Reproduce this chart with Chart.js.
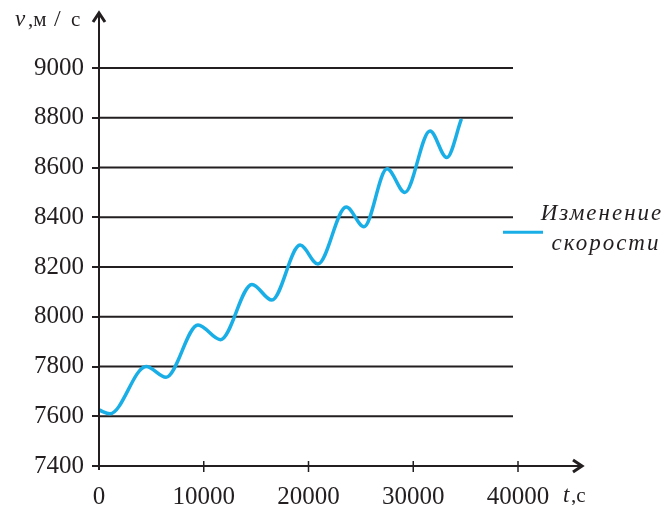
<!DOCTYPE html>
<html>
<head>
<meta charset="utf-8">
<script src="https://cdn.jsdelivr.net/npm/chart.js@4/dist/chart.umd.min.js"></script>
<style>
  html, body { margin: 0; padding: 0; background: #fff; }
  #wrap { width: 665px; height: 505px; }
</style>
</head>
<body>
<div id="wrap"><canvas id="myChart" width="665" height="505"></canvas></div>
<script>
// time, s
let timeVals = [0, 1050, 4500, 6400, 9450, 11600, 14600, 16500, 19200, 20900, 23600, 25300, 27500, 29200, 31600, 33200, 34600];
// speed, m/s
let speedVals = [7625, 7610, 7800, 7757, 7967, 7908, 8130, 8067, 8288, 8212, 8441, 8362, 8595, 8500, 8747, 8640, 8795];

let xTicks = [0, 10000, 20000, 30000, 40000];
let yTicks = [7400, 7600, 7800, 8000, 8200, 8400, 8600, 8800, 9000];
let legendLines = ["Изменение", "скорости"];

let points = [];
for (let i = 0; i < timeVals.length; i++) {
  points.push({ x: timeVals[i], y: speedVals[i] });
}

const ink = "#231f20";
const blue = "#1aaee6";
const serif = "'Liberation Serif', 'Times New Roman', serif";

// horizontal grid lines stop a little short of the last x tick
const gridLines = {
  id: "gridLines",
  beforeDatasetsDraw(chart) {
    const c = chart.ctx;
    const a = chart.chartArea;
    const ys = chart.scales.y;
    c.save();
    c.strokeStyle = ink;
    c.lineWidth = 2;
    yTicks.forEach((v) => {
      const py = ys.getPixelForValue(v);
      c.beginPath();
      c.moveTo(a.left, py);
      c.lineTo(a.right - 5, py);
      c.stroke();
    });
    c.restore();
  }
};

// axis lines with arrows, crossing ticks on x, titles and the legend
const extras = {
  id: "extras",
  afterDraw(chart) {
    const c = chart.ctx;
    const a = chart.chartArea;
    const xs = chart.scales.x;
    c.save();
    c.strokeStyle = ink;
    c.fillStyle = ink;

    // y axis
    c.lineWidth = 2;
    c.beginPath();
    c.moveTo(a.left, a.bottom + 4);
    c.lineTo(a.left, a.top - 55);
    c.stroke();
    // x axis
    c.beginPath();
    c.moveTo(a.left - 7, a.bottom);
    c.lineTo(a.right + 64, a.bottom);
    c.stroke();

    // arrows
    c.lineWidth = 3;
    c.beginPath();
    c.moveTo(a.left - 6, a.top - 46);
    c.lineTo(a.left, a.top - 55);
    c.lineTo(a.left + 6, a.top - 46);
    c.stroke();
    c.beginPath();
    c.moveTo(a.right + 55, a.bottom - 6);
    c.lineTo(a.right + 64, a.bottom);
    c.lineTo(a.right + 55, a.bottom + 6);
    c.stroke();

    // x ticks
    c.lineWidth = 1.5;
    xTicks.forEach((t) => {
      if (t === 0) return;
      const px = xs.getPixelForValue(t);
      c.beginPath();
      c.moveTo(px, a.bottom - 5);
      c.lineTo(px, a.bottom + 6);
      c.stroke();
    });

    // axis titles
    c.textBaseline = "alphabetic";
    c.textAlign = "left";
    c.font = "italic 23px " + serif;
    c.fillText("v", a.left - 84, a.top - 42);
    c.font = "21px " + serif;
    c.fillText(",м", a.left - 71, a.top - 42);
    c.font = "24px " + serif;
    c.fillText("/", a.left - 45, a.top - 42);
    c.font = "21px " + serif;
    c.fillText("с", a.left - 28, a.top - 42);

    c.font = "italic 23px " + serif;
    c.fillText("t", a.right + 45, a.bottom + 36);
    c.font = "21px " + serif;
    c.fillText(",с", a.right + 53, a.bottom + 36);

    // legend
    const ly = chart.scales.y.getPixelForValue(8340);
    c.strokeStyle = blue;
    c.lineWidth = 3;
    c.beginPath();
    c.moveTo(a.right - 15, ly);
    c.lineTo(a.right + 25, ly);
    c.stroke();
    c.fillStyle = ink;
    c.font = "italic 23px " + serif;
    c.textAlign = "center";
    c.letterSpacing = "2px";
    c.fillText(legendLines[0], a.right + 84, ly - 12);
    c.fillText(legendLines[1], a.right + 88, ly + 18);
    c.restore();
  }
};

let ctx = document.getElementById("myChart").getContext("2d");
let myChart = new Chart(ctx, {
  type: "line",
  data: {
    datasets: [
      {
        label: legendLines.join(" "),
        data: points,
        borderColor: blue,
        borderWidth: 3.5,
        pointRadius: 0,
        fill: false,
        cubicInterpolationMode: "monotone",
      },
    ],
  },
  options: {
    responsive: false,
    animation: false,
    layout: {
      padding: { top: 68, right: 147, bottom: 0, left: 0 },
    },
    plugins: {
      legend: { display: false },
      tooltip: { enabled: false },
    },
    scales: {
      x: {
        type: "linear",
        min: 0,
        max: 40000,
        afterBuildTicks: (scale) => {
          scale.ticks = xTicks.map((v) => ({ value: v }));
        },
        afterFit: (scale) => {
          scale.height = 39;
        },
        grid: { display: false },
        border: { display: false },
        ticks: {
          color: ink,
          padding: 8,
          maxRotation: 0,
          font: { family: serif, size: 25 },
          callback: (v) => String(v),
        },
      },
      y: {
        min: 7400,
        max: 9000,
        afterBuildTicks: (scale) => {
          scale.ticks = yTicks.map((v) => ({ value: v }));
        },
        afterFit: (scale) => {
          scale.width = 99;
        },
        grid: {
          color: ink,
          lineWidth: 2,
          tickLength: 7,
          drawOnChartArea: false,
        },
        border: { display: false },
        ticks: {
          color: ink,
          padding: 8,
          font: { family: serif, size: 25 },
          callback: (v) => String(v),
        },
      },
    },
  },
  plugins: [gridLines, extras],
});
</script>
</body>
</html>
